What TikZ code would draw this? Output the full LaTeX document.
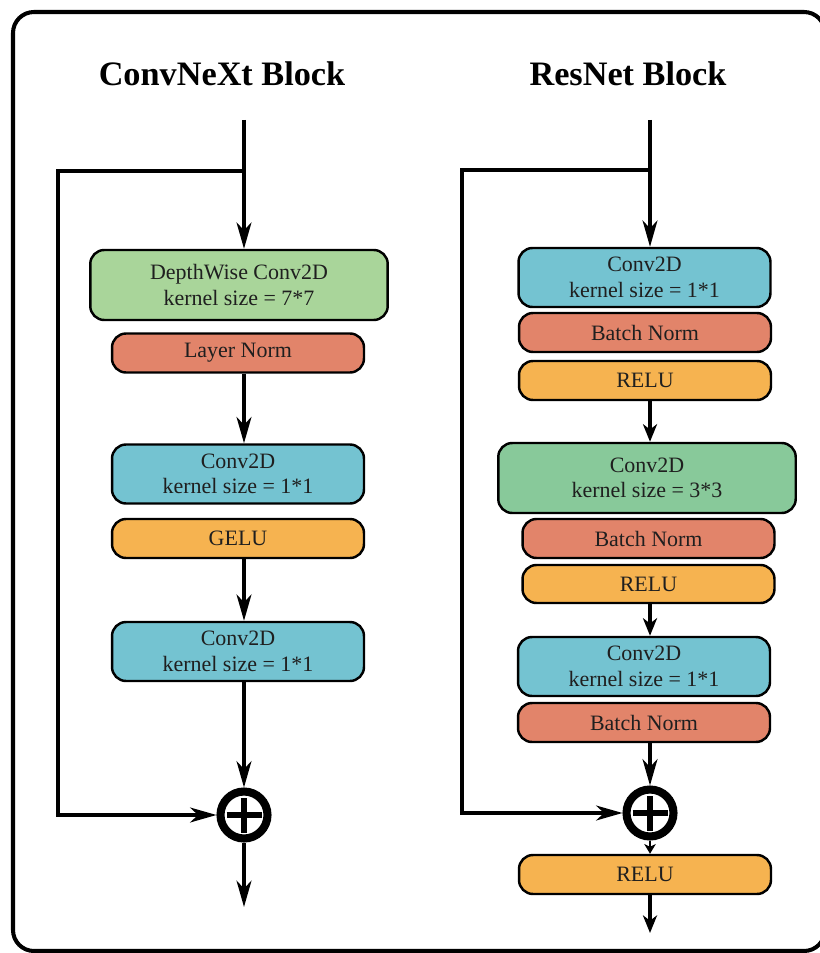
\documentclass[tikz,border=0pt]{standalone}
\usepackage{fontspec}
\setmainfont{Liberation Serif}
\newfontfamily\blockfont{Liberation Serif}
\usetikzlibrary{arrows.meta}

\definecolor{dwgreen}{HTML}{A9D59A}
\definecolor{convgreen}{HTML}{88C99A}
\definecolor{convblue}{HTML}{74C3D1}
\definecolor{normred}{HTML}{E2846A}
\definecolor{actorange}{HTML}{F6B350}

\begin{document}
\begin{tikzpicture}[x=0.02cm, y=-0.02cm,
		every node/.style={font=\blockfont\fontsize{12.5}{14.5}\selectfont, text=black!88},
		layer/.style={draw, line width=1.4pt, rounded corners=0.28cm, align=center, inner sep=0pt, minimum width=5.04cm, minimum height=0.78cm},
		thick layer/.style={layer, minimum height=1.18cm},
		wide layer/.style={layer, minimum width=5.95cm, minimum height=1.4cm},
		title/.style={font=\blockfont\fontsize{19.5}{22}\selectfont\bfseries, text=black},
		addop/.style={circle, draw, line width=4.6pt, minimum size=0.94cm, inner sep=0pt},
		plus/.style={line width=3pt},
		arr/.style={line width=1.8pt, -{Stealth[length=15pt, width=8.5pt, inset=4.5pt]}},
		arr short/.style={line width=1.8pt, -{Stealth[length=10pt, width=8pt, inset=3pt]}},
		arr tiny/.style={line width=1.5pt, -{Stealth[length=5.5pt, width=6.5pt, inset=1.5pt]}}]
	\useasboundingbox (0,0) rectangle (820,953);
	\draw[line width=2.3pt, rounded corners=0.42cm] (13,12) rectangle (825,951);

	% ConvNeXt block
	\node[title] (cnTitle) at (222,74) {ConvNeXt Block};
	\coordinate (cnIn) at (244,120);
	\coordinate (cnSplit) at (244,171);
	\coordinate (cnSkip) at (58,500);
	\node[wide layer, fill=dwgreen] (cnDW) at (239,285) {DepthWise Conv2D\\kernel size = 7*7};
	\node[layer, fill=normred] (cnLN) at (238,353) {Layer Norm};
	\node[thick layer, fill=convblue] (cnPW1) at (238,474) {Conv2D\\kernel size = 1*1};
	\node[layer, fill=actorange] (cnGelu) at (238,538.5) {GELU};
	\node[thick layer, fill=convblue] (cnPW2) at (238,651.5) {Conv2D\\kernel size = 1*1};
	\node[addop] (cnAdd) at (244,815) {};
	\coordinate (cnOut) at (244,907);

	\draw[arr] (cnIn) -- (cnDW.north -| cnIn);
	\draw[arr] (cnSplit) -| (cnSkip) |- (cnAdd);
	\draw[arr] (cnLN.south -| cnIn) -- (cnPW1.north -| cnIn);
	\draw[arr] (cnGelu.south -| cnIn) -- (cnPW2.north -| cnIn);
	\draw[arr] (cnPW2.south -| cnIn) -- (cnAdd);
	\draw[arr] (cnAdd) -- (cnOut);
	\draw[plus] ([xshift=-0.35cm]cnAdd.center) -- ([xshift=0.35cm]cnAdd.center);
	\draw[plus] ([yshift=-0.35cm]cnAdd.center) -- ([yshift=0.35cm]cnAdd.center);

	% ResNet block
	\node[title] (rnTitle) at (628,74) {ResNet Block};
	\coordinate (rnIn) at (650,120);
	\coordinate (rnSplit) at (650,170);
	\coordinate (rnSkip) at (462,500);
	\node[thick layer, fill=convblue] (rnC1) at (644.5,277.5) {Conv2D\\kernel size = 1*1};
	\node[layer, fill=normred] (rnBN1) at (645,332.5) {Batch Norm};
	\node[layer, fill=actorange] (rnR1) at (645,380.5) {RELU};
	\node[wide layer, fill=convgreen] (rnC2) at (647,478) {Conv2D\\kernel size = 3*3};
	\node[layer, fill=normred] (rnBN2) at (648.5,538.5) {Batch Norm};
	\node[layer, fill=actorange, minimum height=0.76cm] (rnR2) at (648.5,584) {RELU};
	\node[thick layer, fill=convblue] (rnC3) at (644,666.5) {Conv2D\\kernel size = 1*1};
	\node[layer, fill=normred] (rnBN3) at (644,722.5) {Batch Norm};
	\node[addop] (rnAdd) at (650,813) {};
	\node[layer, fill=actorange] (rnR3) at (645,874.5) {RELU};
	\coordinate (rnOut) at (650,933);

	\draw[arr] (rnIn) -- (rnC1.north -| rnIn);
	\draw[arr] (rnSplit) -| (rnSkip) |- (rnAdd);
	\draw[arr short] (rnR1.south -| rnIn) -- (rnC2.north -| rnIn);
	\draw[arr short] (rnR2.south -| rnIn) -- (rnC3.north -| rnIn);
	\draw[arr] (rnBN3.south -| rnIn) -- (rnAdd);
	\draw[arr tiny] (rnAdd) -- (rnR3.north -| rnIn);
	\draw[arr short] (rnR3.south -| rnIn) -- (rnOut);
	\draw[plus] ([xshift=-0.35cm]rnAdd.center) -- ([xshift=0.35cm]rnAdd.center);
	\draw[plus] ([yshift=-0.35cm]rnAdd.center) -- ([yshift=0.35cm]rnAdd.center);
\end{tikzpicture}
\end{document}
